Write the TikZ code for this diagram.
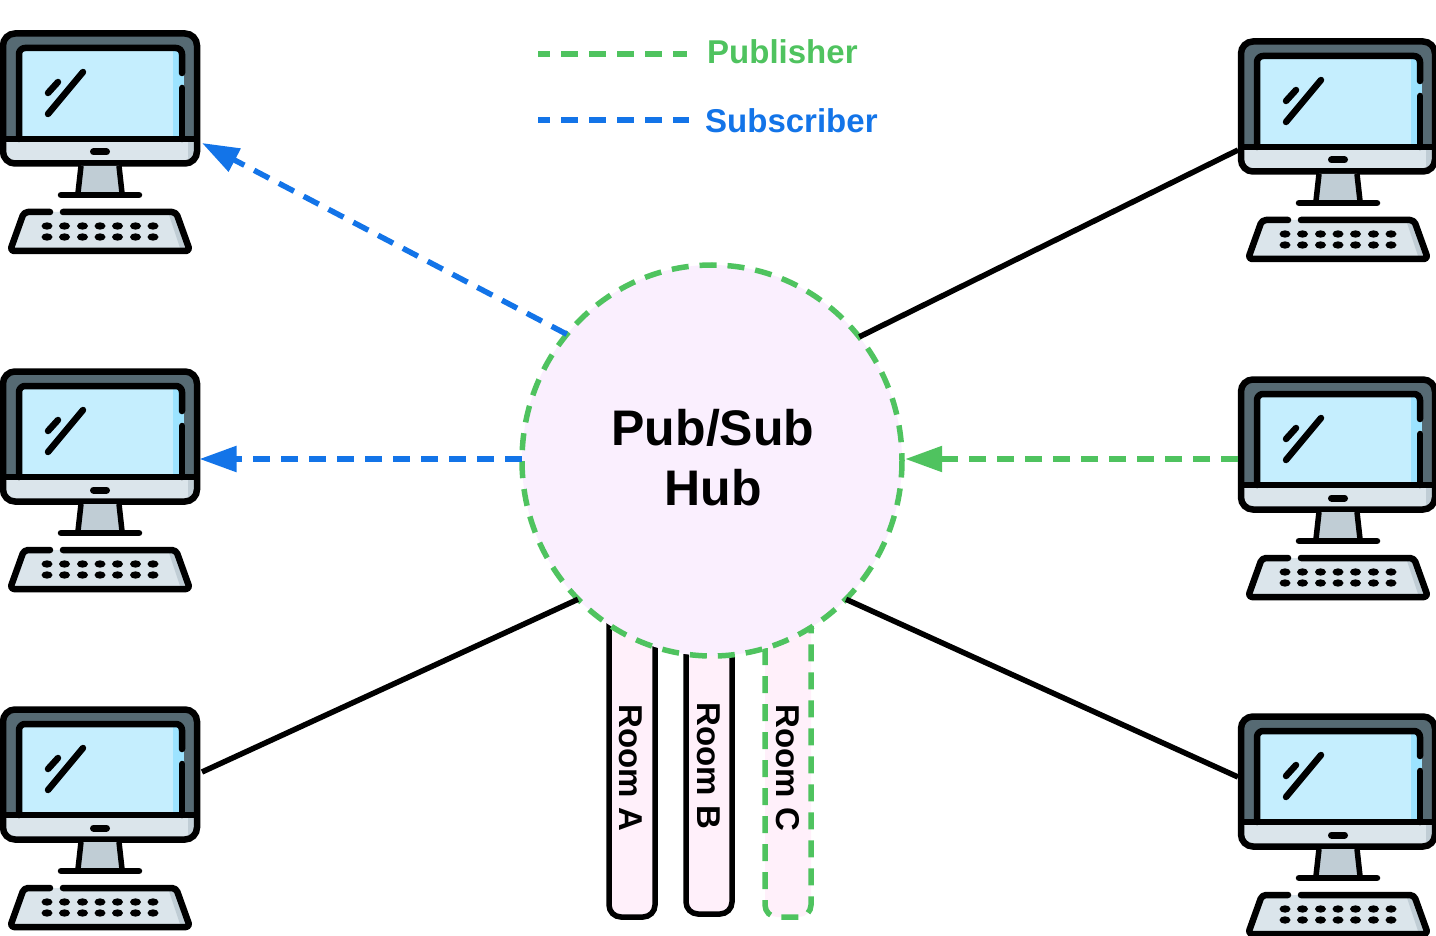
\documentclass[tikz,border=0pt]{standalone}
\usepackage{fontspec}
\setmainfont{Liberation Sans}
\usetikzlibrary{arrows.meta,shapes.geometric}
\definecolor{pubgreen}{HTML}{4FC35F}
\definecolor{subblue}{HTML}{1374E8}
\definecolor{hubfill}{HTML}{FAEFFE}
\definecolor{roomfill}{HTML}{FFF0FA}
\definecolor{bezel}{HTML}{566A73}
\definecolor{glass}{HTML}{C5EEFE}
\definecolor{glassedge}{HTML}{9CE3FF}
\definecolor{chin}{HTML}{DBE5EB}
\definecolor{chinedge}{HTML}{C0CDD5}
\tikzset{
    publine/.style={pubgreen,line width=5.5pt,dash pattern=on 17pt off 11pt},
    subline/.style={subblue,line width=5.5pt,dash pattern=on 17pt off 11pt},
    plainline/.style={black,line width=5.5pt},
    bigtip/.style={-{Triangle[length=37pt,width=25pt]}},
    legendtext/.style={font=\bfseries\fontsize{33}{33}\selectfont,inner sep=0pt,anchor=west},
    roomtext/.style={font=\bfseries\fontsize{33}{33}\selectfont,rotate=-90,inner sep=0pt},
    computer/.pic={
        % monitor
        \fill[bezel,rounded corners=12pt](3,3.5)rectangle(197,112);
        \fill[chin,rounded corners=12pt](3,109)--(197,109)--(197,133.5)--(3,133.5)--cycle;
        \fill[chinedge](188,112)rectangle(194,130);
        \fill[glass](19,18)rectangle(182,109);
        \fill[glassedge](173,21)rectangle(179,109);
        \fill[glassedge](179,45)rectangle(184,55);
        \draw[line width=6.5pt,line cap=round,line join=round,rounded corners=6pt](19,109)--(19,18)--(182,18)--(182,43);
        \draw[line width=6.5pt,line cap=round](182,58)--(182,109);
        \draw[line width=6.5pt,rounded corners=12pt](3,3.5)rectangle(197,133.5);
        \draw[line width=6.5pt](3,109)--(197,109);
        \draw[line width=7pt,line cap=round](93.5,122)--(106.5,122);
        \draw[line width=6.5pt,line cap=round](83,42)--(48,84);
        \draw[line width=6.5pt,line cap=round](58,52)--(48,63);
        % stand
        \fill[chinedge](81,136)--(119,136)--(122,163)--(78,163)--cycle;
        \draw[line width=5.5pt](81,136)--(78,163);
        \draw[line width=5.5pt](119,136)--(122,163);
        \draw[line width=6.5pt,line cap=round](61,165)--(139,165);
        % keyboard
        \fill[chin](24,182)--(176,182)--(190,221)--(10,221)--cycle;
        \fill[chinedge](168,182)--(176,182)--(190,221)--(181,221)--cycle;
        \draw[line width=6.5pt,line cap=round,line join=round,rounded corners=4pt](50,182)--(24,182)--(10,221)--(190,221)--(176,182)--(63,182);
        \foreach \dotx in {47,64.5,82.5,100,117.5,135.5,153}{
            \fill(\dotx,196)ellipse(5.5 and 3.7);
            \fill(\dotx,207)ellipse(5.5 and 3.7);
        }
        % ports
        \coordinate(-e1)at(202,113);
        \coordinate(-e2)at(202,66);
        \coordinate(-w1)at(0,112);
        \coordinate(-w2)at(0,64);
        \coordinate(-e)at(199.5,92);
        \coordinate(-w)at(0,84);
    }
}
\begin{document}
\begin{tikzpicture}[x=1pt,y=-1pt]
\useasboundingbox(0,0)rectangle(1436,936);
\pic(pcA)at(0,30){computer};
\pic(pcB)at(0,368){computer};
\pic(pcC)at(0,706){computer};
\pic(pcD)at(1238,38){computer};
\pic(pcE)at(1238,376){computer};
\pic(pcF)at(1238,713){computer};
% rooms
\draw[plainline,fill=roomfill,rounded corners=12pt](609,620)--(609,917)--(655,917)--(655,620);
\draw[plainline,fill=roomfill,rounded corners=12pt](686,620)--(686,914)--(732,914)--(732,620);
\draw[publine,fill=roomfill,rounded corners=12pt](765,620)--(765,917)--(811,917)--(811,620);
\node[roomtext](roomA)at(631,768){Room A};
\node[roomtext](roomB)at(709,766){Room B};
\node[roomtext](roomC)at(788,768){Room C};
% hub
\node[ellipse,draw=none,fill=hubfill,minimum width=380pt,minimum height=391pt,inner sep=0pt](hub)at(712,460.5){};
\draw[publine](712,460.5)ellipse(190 and 195.5);
\node[align=center,font=\bfseries\fontsize{50}{60}\selectfont](hubtext)at(713,458){Pub/Sub\\Hub};
\coordinate(hubwest)at([yshift=1.5pt]hub.west);
\coordinate(hubeast)at([xshift=3pt,yshift=1.5pt]hub.east);
% links
\draw[subline,bigtip](hub.139)--(pcA-e1);
\draw[subline,bigtip](hubwest)--(pcB-e|-hubwest);
\draw[plainline](hub.226)--(pcC-e2);
\draw[plainline](hub.40)--(pcD-w1);
\draw[publine,bigtip](pcE-w|-hubeast)--(hubeast);
\draw[plainline](hub.-46)--(pcF-w2);
% legend
\node[legendtext,text=pubgreen](pubtext)at(707,52){Publisher};
\node[legendtext,text=subblue](subtext)at(705,121){Subscriber};
\coordinate(pubstart)at(538,54);
\coordinate(substart)at(538,120);
\draw[publine,dash phase=5pt,shorten >=20pt](pubstart)--(pubstart-|pubtext.west);
\draw[subline,dash phase=5pt,shorten >=16pt](substart)--(substart-|subtext.west);
\end{tikzpicture}
\end{document}
